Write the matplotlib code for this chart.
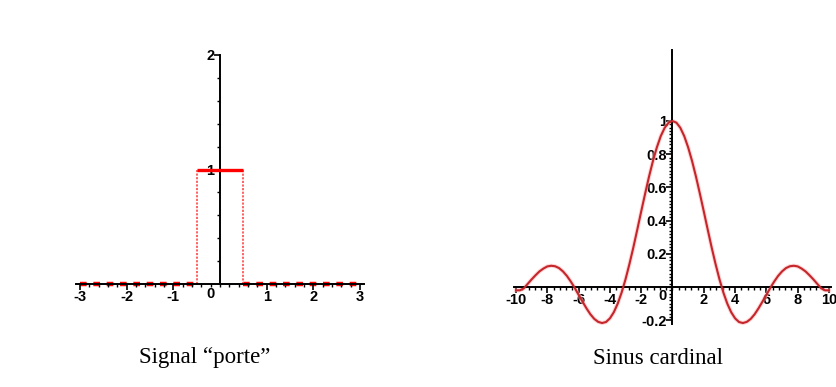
import numpy as np
import matplotlib.pyplot as plt
from matplotlib.ticker import MultipleLocator, FixedLocator

# data

# "porte" (rect) signal: corners of the gate
porte_x = [-3.0, -0.5, -0.5, 0.5, 0.5, 3.0]
porte_y = [0.0, 0.0, 1.0, 1.0, 0.0, 0.0]

# sinus cardinal, read every 0.25
sinc_x = [-10.0, -9.75, -9.5, -9.25, -9.0, -8.75, -8.5, -8.25, -8.0, -7.75,
          -7.5, -7.25, -7.0, -6.75, -6.5, -6.25, -6.0, -5.75, -5.5, -5.25,
          -5.0, -4.75, -4.5, -4.25, -4.0, -3.75, -3.5, -3.25, -3.0, -2.75,
          -2.5, -2.25, -2.0, -1.75, -1.5, -1.25, -1.0, -0.75, -0.5, -0.25,
          0.0, 0.25, 0.5, 0.75, 1.0, 1.25, 1.5, 1.75, 2.0, 2.25,
          2.5, 2.75, 3.0, 3.25, 3.5, 3.75, 4.0, 4.25, 4.5, 4.75,
          5.0, 5.25, 5.5, 5.75, 6.0, 6.25, 6.5, 6.75, 7.0, 7.25,
          7.5, 7.75, 8.0, 8.25, 8.5, 8.75, 9.0, 9.25, 9.5, 9.75, 10.0]
sinc_y = [-0.02, -0.02, -0.008, 0.019, 0.046, 0.071, 0.094, 0.111, 0.124, 0.128,
          0.125, 0.114, 0.094, 0.067, 0.033, -0.005, -0.047, -0.088, -0.128, -0.164,
          -0.192, -0.210, -0.217, -0.211, -0.189, -0.152, -0.100, -0.033, 0.047, 0.139,
          0.239, 0.346, 0.455, 0.562, 0.665, 0.759, 0.841, 0.909, 0.959, 0.990,
          1.0, 0.990, 0.959, 0.909, 0.841, 0.759, 0.665, 0.562, 0.455, 0.346,
          0.239, 0.139, 0.047, -0.033, -0.100, -0.152, -0.189, -0.211, -0.217, -0.210,
          -0.192, -0.164, -0.128, -0.088, -0.047, -0.005, 0.033, 0.067, 0.094, 0.114,
          0.125, 0.128, 0.124, 0.111, 0.094, 0.071, 0.046, 0.019, -0.008, -0.02, -0.02]

porte_xticks = [-3, -2, -1, 1, 2, 3]
porte_yticks = [1, 2]
sinc_xticks = [-10, -8, -6, -4, -2, 2, 4, 6, 8, 10]
sinc_yticks = [-0.2, 0.2, 0.4, 0.6, 0.8, 1]

captions = ["Signal \u201cporte\u201d", "Sinus cardinal"]

W, H = 837, 387
fig = plt.figure(figsize=(W / 100, H / 100), dpi=100)

tick_font = dict(family="Liberation Sans", weight="bold", size=10.5)


def px_axes(x0, x1, y0, y1):
    # axes given in pixel coordinates (top-left origin)
    return fig.add_axes([x0 / W, 1 - y1 / H, (x1 - x0) / W, (y1 - y0) / H])


def maple_style(ax):
    ax.spines["left"].set_position(("data", 0))
    ax.spines["bottom"].set_position(("data", 0))
    ax.spines["top"].set_visible(False)
    ax.spines["right"].set_visible(False)
    for s in ("left", "bottom"):
        ax.spines[s].set_linewidth(1.4)
        ax.spines[s].set_color("black")
    ax.tick_params(which="major", length=4, width=1.2, direction="out", pad=0)
    ax.tick_params(which="minor", length=2.2, width=1.0, direction="out")
    ax.patch.set_alpha(0)


# ---- left: porte ----
# x: -3 -> 80px, 3 -> 360px ; y: 0 -> 284px, 2 -> 55px
sx = (360 - 80) / 6
sy = (284 - 55) / 2
ax1 = px_axes(80 - 0.08 * sx, 360 + 0.08 * sx, 55 - 0.02 * sy, 284 + 0.03 * sy)
ax1.set_xlim(-3.08, 3.08)
ax1.set_ylim(-0.03, 2.02)
maple_style(ax1)
ax1.spines["left"].set_bounds(0, 2)

# baseline (dashed red under axis)
for a, b in [(0, 1), (4, 5)]:
    ax1.plot([porte_x[a], porte_x[b]], [porte_y[a], porte_y[b]], color="red", lw=3.2,
             ls=(0, (1.5, 1.5)), zorder=1)
# vertical sides (dotted light red)
for a, b in [(1, 2), (3, 4)]:
    ax1.plot([porte_x[a], porte_x[b]], [porte_y[a], porte_y[b]], color="#ff5555", lw=1.3,
             ls=(0, (1.2, 0.8)), zorder=2)
# top
ax1.plot([porte_x[2], porte_x[3]], [porte_y[2], porte_y[3]], color="red", lw=2.4,
         zorder=3, solid_capstyle="butt")

ax1.set_xticks(porte_xticks)
ax1.set_yticks(porte_yticks)
ax1.xaxis.set_minor_locator(MultipleLocator(0.2))
ax1.yaxis.set_minor_locator(FixedLocator(np.arange(0.2, 2.0, 0.2)))
ax1.set_xticklabels([str(t) for t in porte_xticks], **tick_font)
ax1.set_yticklabels([str(t) for t in porte_yticks], **tick_font)
ax1.text(-0.12, -0.025, "0", ha="right", va="top", **tick_font)

# ---- right: sinus cardinal ----
# x: -10 -> 516px, 10 -> 829px ; y: 0 -> 287px, 1 -> 121px
sx2 = (829 - 516) / 20
sy2 = 287 - 121
ax2 = px_axes(516 - 0.15 * sx2, 829 + 0.15 * sx2, 287 - 1.43 * sy2, 287 + 0.23 * sy2)
ax2.set_xlim(-10.15, 10.15)
ax2.set_ylim(-0.23, 1.43)
maple_style(ax2)
ax2.spines["left"].set_bounds(-0.22, 1.43)

ax2.plot(sinc_x, sinc_y, color="#ffb0b0", lw=3.0, alpha=0.5, zorder=2, clip_on=False)
ax2.plot(sinc_x, sinc_y, color="#c4262b", lw=1.5, zorder=3, clip_on=False)

ax2.set_xticks(sinc_xticks)
ax2.set_yticks(sinc_yticks)
ax2.xaxis.set_minor_locator(MultipleLocator(0.4))
ax2.yaxis.set_minor_locator(FixedLocator(np.arange(-0.2, 1.001, 0.02)))
ax2.set_xticklabels([str(t) for t in sinc_xticks], **tick_font)
ax2.set_yticklabels([f"{t:g}" for t in sinc_yticks], **tick_font)
ax2.text(-0.35, -0.01, "0", ha="right", va="top", **tick_font)

# captions
fig.text(205 / W, 1 - 358 / H, captions[0], ha="center", va="center",
         family="Liberation Serif", size=16.5)
fig.text(658 / W, 1 - 358 / H, captions[1], ha="center", va="center",
         family="Liberation Serif", size=16.5)

fig.savefig("out.png", dpi=100)
